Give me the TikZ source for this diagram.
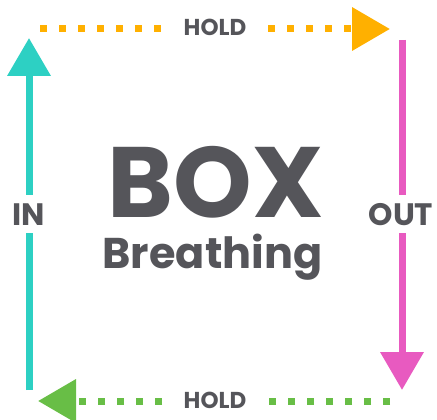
\documentclass[tikz,border=0pt]{standalone}
\usepackage{fontspec}
\newfontfamily\popfont{Poppins}
\usetikzlibrary{arrows.meta}
\definecolor{inteal}{RGB}{45,208,195}
\definecolor{holdorange}{RGB}{255,176,0}
\definecolor{outpink}{RGB}{232,90,192}
\definecolor{holdgreen}{RGB}{104,190,70}
\definecolor{txtgray}{RGB}{85,85,90}
\begin{document}
\begin{tikzpicture}[x=1pt,y=-1pt,
 solidarr/.style={line width=7pt,-{Triangle[length=38pt,width=42pt]}},
 dotarr/.style={line width=7pt,dash pattern=on 7pt off 12pt,-{Triangle[length=38pt,width=42pt]}},
 title/.style={text=txtgray,anchor=base,inner sep=0pt},
 lbl/.style={title,fill=white,inner xsep=6pt,inner ysep=8pt}]
 \useasboundingbox (0,0) rectangle (437,420);
 \coordinate (tl) at (29,390); \coordinate (tlt) at (29,38);
 \coordinate (ts) at (40,29); \coordinate (tst) at (390,29);
 \coordinate (rs) at (402,40); \coordinate (rst) at (402,390);
 \coordinate (bs) at (390,401); \coordinate (bst) at (38,401);
 % the four sides
 \draw[solidarr,inteal] (tl) -- (tlt);
 \draw[dotarr,holdorange] (ts) -- (tst);
 \draw[solidarr,outpink] (rs) -- (rst);
 \draw[dotarr,holdgreen] (bs) -- (bst);
 % labels
 \node[lbl,font=\popfont\bfseries\fontsize{31}{31}\selectfont] (in) at (29,225) {IN};
 \node[lbl,font=\popfont\bfseries\fontsize{31}{31}\selectfont] (out) at (401,225) {OUT};
 \node[lbl,font=\popfont\bfseries\fontsize{23}{23}\selectfont,inner xsep=14pt] (holdtop) at (215,36) {HOLD};
 \node[lbl,font=\popfont\bfseries\fontsize{23}{23}\selectfont,inner xsep=14pt] (holdbot) at (215,408) {HOLD};
 \node[title,font=\popfont\bfseries\fontsize{100}{100}\selectfont,text depth=0pt] (box) at (215.5,217) {BOX};
 \node[title,font=\popfont\bfseries\fontsize{43}{43}\selectfont,text height=33pt] (breath) at (212.5,268) {Breathing};
\end{tikzpicture}
\end{document}
